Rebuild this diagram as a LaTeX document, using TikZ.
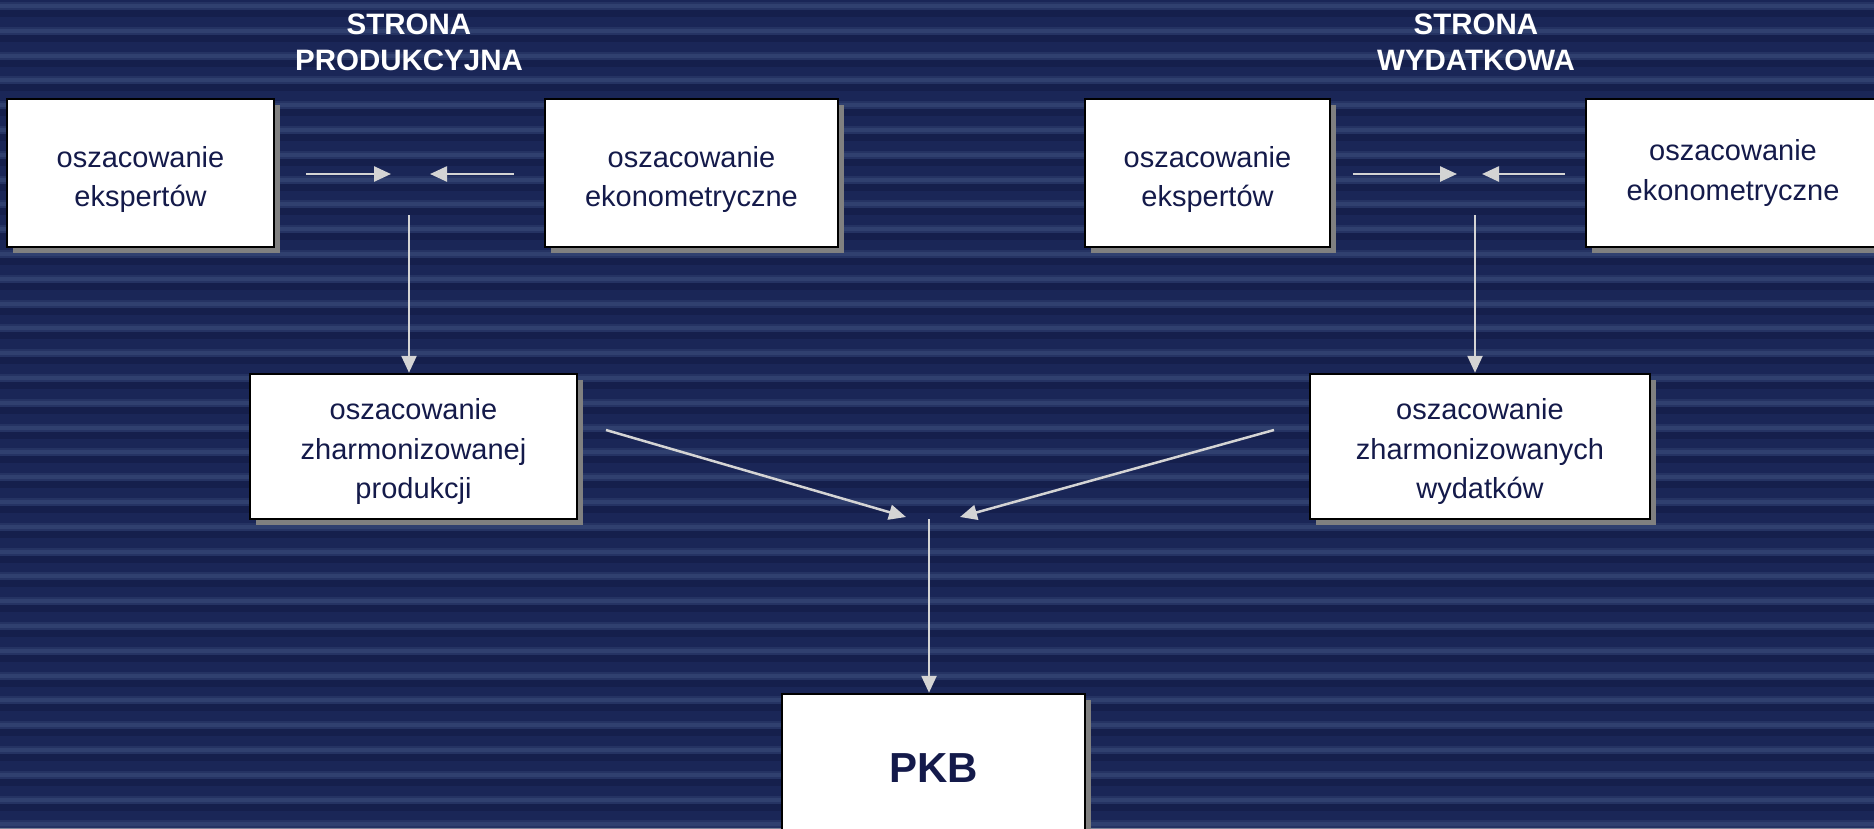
\documentclass[tikz,border=0pt]{standalone}
\usepackage{fontspec}
\setmainfont{Liberation Sans}
\usepackage{xcolor}
\usetikzlibrary{positioning,arrows.meta,shadows,calc}
\definecolor{tlo}{HTML}{1A2657}
\definecolor{pasek}{HTML}{30406F}
\definecolor{cien}{HTML}{111B44}
\definecolor{granat}{HTML}{141A4A}
\definecolor{strzalka}{HTML}{D4D4D4}
\tikzset{every path/.append style={line width=2.5pt}}
\newcommand{\odstep}[1]{\rule{0pt}{#1}}

\begin{document}
\begin{tikzpicture}[x=1pt,y=1pt,
 box/.style={draw=black, fill=white, text=granat, align=center, inner sep=0pt, font=\fontsize{29}{39.5}\selectfont, drop shadow={shadow xshift=6pt, shadow yshift=-6pt, fill=gray, opacity=1}},
 arr/.style={strzalka, -{Triangle[length=17pt,width=15pt]}},
 naglowek/.style={text=white, align=center, font=\bfseries\fontsize{29.5}{36}\selectfont}]
 \useasboundingbox (0,0) rectangle (1874,-828);
 \fill[tlo] (0,0) rectangle (1874,-828);
 \foreach \i in {0,...,33}{
  \fill[pasek, opacity=0.5] (0,-2-24.8*\i) rectangle (1874,-10-24.8*\i);
  \fill[pasek] (0,-4-24.8*\i) rectangle (1874,-8-24.8*\i);
  \fill[cien, opacity=0.55] (0,-10-24.8*\i) rectangle (1874,-17-24.8*\i);
 }
 \node[naglowek] (tytP) at (409,-42) {STRONA\\PRODUKCYJNA};
 \node[naglowek] (tytW) at (1476,-42) {STRONA\\WYDATKOWA};
 \node[box, minimum width=267pt, minimum height=148pt] (ekspP) at (140.5,-173) {\odstep{34pt}oszacowanie\\ekspertów};
 \node[box, minimum width=293pt, minimum height=148pt] (ekonP) at (691.5,-173) {\odstep{34pt}oszacowanie\\ekonometryczne};
 \node[box, minimum width=327pt, minimum height=145pt] (harmP) at (413.5,-446.5) {\odstep{31pt}oszacowanie\\zharmonizowanej\\produkcji};
 \node[box, minimum width=245pt, minimum height=148pt] (ekspW) at (1207.5,-173) {\odstep{34pt}oszacowanie\\ekspertów};
 \node[box, minimum width=294pt, minimum height=148pt] (ekonW) at (1733,-173) {oszacowanie\\ekonometryczne};
 \node[box, minimum width=340pt, minimum height=145pt] (harmW) at (1480,-446.5) {\odstep{31pt}oszacowanie\\zharmonizowanych\\wydatków};
 \node[box, minimum width=303pt, minimum height=148pt, font=\bfseries\fontsize{42}{42}\selectfont] (pkb) at (933.5,-768) {PKB};
 \coordinate (celPa) at (391,-174);
 \coordinate (celPb) at (430,-174);
 \coordinate (zbiegP) at (409,-174);
 \coordinate (celWa) at (1457,-174);
 \coordinate (celWb) at (1482,-174);
 \coordinate (zbiegW) at (1475,-174);
 \coordinate (startP) at (606,-430);
 \coordinate (startW) at (1274,-430);
 \coordinate (celSa) at (906,-517);
 \coordinate (celSb) at (960,-517);
 \coordinate (zbiegS) at (929,-519);
 \draw[arr, shorten <=31pt] (ekspP.east |- celPa) -- (celPa);
 \draw[arr, shorten <=30pt] (ekonP.west |- celPb) -- (celPb);
 \draw[arr, shorten <=41pt] (zbiegP) -- (zbiegP |- harmP.north);
 \draw[arr, shorten <=22pt] (ekspW.east |- celWa) -- (celWa);
 \draw[arr, shorten <=20pt] (ekonW.west |- celWb) -- (celWb);
 \draw[arr, shorten <=41pt] (zbiegW) -- (zbiegW |- harmW.north);
 \draw[arr] (startP) -- (celSa);
 \draw[arr] (startW) -- (celSb);
 \draw[arr] (zbiegS) -- (zbiegS |- pkb.north);
\end{tikzpicture}
\end{document}
